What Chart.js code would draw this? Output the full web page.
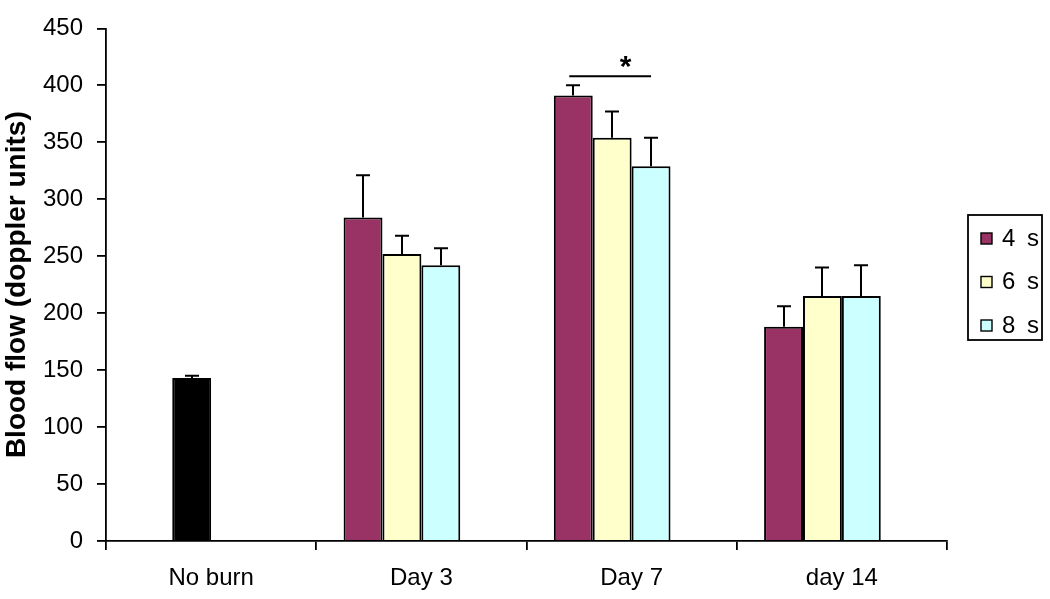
<!DOCTYPE html>
<html><head><meta charset="utf-8">
<script src="https://cdn.jsdelivr.net/npm/chart.js@4/dist/chart.umd.min.js"></script>
<style>html,body{margin:0;padding:0;background:#fff}#wrap{width:1050px;height:599px;position:relative}</style>
</head><body><div id="wrap"><canvas id="c" width="1050" height="599"></canvas></div>
<script>
const categories = ['No burn', 'Day 3', 'Day 7', 'day 14'];
const seriesLabels = ['4 s', '6 s', '8 s'];
const values4s = [null, 284, 391, 188];
const values6s = [143, 252, 354, 215];
const values8s = [null, 242, 329, 215];
const err4s = [null, 37, 9, 18];
const err6s = [2, 16, 23, 25];
const err8s = [null, 15, 25, 27];
const yTicks = [0, 50, 100, 150, 200, 250, 300, 350, 400, 450];
const sigCategory = 2;
const sigFromSeries = 0;
const sigToSeries = 2;
const sigValue = 408;
const sigMark = '*';

const colors = ['#993366', '#FFFFCC', '#CCFFFF'];
const FONT = '"Liberation Sans", Arial, sans-serif';
const errors = [err4s, err6s, err8s];

const errorBarPlugin = {
  id: 'errorBars',
  afterDatasetsDraw(chart) {
    const ctx = chart.ctx, ys = chart.scales.y;
    ctx.save();
    ctx.strokeStyle = '#000';
    ctx.lineWidth = 2;
    for (let d = 0; d < 3; d++) {
      const meta = chart.getDatasetMeta(d);
      const data = chart.data.datasets[d].data;
      meta.data.forEach((bar, i) => {
        const v = data[i], e = errors[d][i];
        if (v == null || e == null) return;
        const x = Math.round(bar.x);
        const y0 = ys.getPixelForValue(v), y1 = ys.getPixelForValue(v + e);
        ctx.beginPath();
        ctx.moveTo(x, y0); ctx.lineTo(x, y1);
        ctx.moveTo(x - 7, y1); ctx.lineTo(x + 7, y1);
        ctx.stroke();
      });
    }
    // significance line
    const b1 = chart.getDatasetMeta(sigFromSeries).data[sigCategory];
    const b2 = chart.getDatasetMeta(sigToSeries).data[sigCategory];
    const ly = ys.getPixelForValue(sigValue);
    ctx.lineWidth = 2.2;
    ctx.beginPath();
    ctx.moveTo(b1.x - 4, ly); ctx.lineTo(b2.x, ly);
    ctx.stroke();
    ctx.fillStyle = '#000';
    ctx.font = 'bold 30px ' + FONT;
    ctx.textAlign = 'center';
    ctx.textBaseline = 'middle';
    ctx.fillText(sigMark, chart.scales.x.getPixelForValue(sigCategory) - 6, ly - 9);
    ctx.restore();
  }
};

const legendPlugin = {
  id: 'boxLegend',
  afterDraw(chart) {
    const ctx = chart.ctx, ca = chart.chartArea;
    const left = ca.right + 21, top = 215, w = 74, h = 125;
    ctx.save();
    ctx.fillStyle = '#fff';
    ctx.fillRect(left, top, w, h);
    ctx.strokeStyle = '#000';
    ctx.lineWidth = 1.8;
    ctx.strokeRect(left, top, w, h);
    ctx.font = '24px ' + FONT;
    ctx.textBaseline = 'middle';
    ctx.textAlign = 'left';
    seriesLabels.forEach((lab, i) => {
      const cy = top + 23 + i * 43.5;
      ctx.fillStyle = colors[i];
      ctx.fillRect(left + 13, cy - 5, 11, 11);
      ctx.lineWidth = 1.4;
      ctx.strokeRect(left + 13, cy - 5, 11, 11);
      ctx.fillStyle = '#000';
      const parts = lab.split(' ');
      ctx.fillText(parts[0], left + 34, cy + 1);
      ctx.fillText(parts[1], left + 59, cy + 1);
    });
    ctx.restore();
  }
};

const bgPlugin = {
  id: 'bg',
  beforeDraw(chart) {
    const ctx = chart.ctx;
    ctx.save(); ctx.fillStyle = '#fff'; ctx.fillRect(0, 0, chart.width, chart.height); ctx.restore();
  }
};

new Chart(document.getElementById('c'), {
  type: 'bar',
  data: {
    labels: categories,
    datasets: [
      { label: seriesLabels[0], data: values4s, backgroundColor: colors[0] },
      { label: seriesLabels[1], data: values6s, backgroundColor: values6s.map((v, i) => i === 0 ? '#000000' : colors[1]) },
      { label: seriesLabels[2], data: values8s, backgroundColor: colors[2] },
      { label: '', data: [null, null, null, null], backgroundColor: 'rgba(0,0,0,0)' }
    ]
  },
  options: {
    responsive: false,
    animation: false,
    devicePixelRatio: 1,
    datasets: { bar: { categoryPercentage: 0.74, barPercentage: 1, borderColor: '#000', borderWidth: 2 } },
    layout: { padding: { left: 0, top: 25, right: 103, bottom: 0 } },
    plugins: { legend: { display: false }, tooltip: { enabled: false } },
    scales: {
      x: {
        grid: { display: true, drawOnChartArea: false, drawTicks: true, tickLength: 9, color: '#000', lineWidth: 1.8, offset: true },
        border: { display: true, color: '#000', width: 1.8 },
        ticks: { color: '#000', font: { family: FONT, size: 24 }, padding: 14, maxRotation: 0 },
        afterFit(s) { s.height = 58; }
      },
      y: {
        min: 0, max: 450,
        afterBuildTicks(s) { s.ticks = yTicks.map(v => ({ value: v })); },
        grid: { display: true, drawOnChartArea: false, drawTicks: true, tickLength: 9, color: '#000', lineWidth: 1.8 },
        border: { display: true, color: '#000', width: 1.8 },
        ticks: { color: '#000', font: { family: FONT, size: 24 }, padding: 14 },
        title: { display: true, text: 'Blood flow (doppler units)', color: '#000', font: { family: FONT, size: 28, weight: 'bold' }, padding: 0 },
        afterFit(s) { s.width = 106; }
      }
    }
  },
  plugins: [bgPlugin, errorBarPlugin, legendPlugin]
});
</script>
</body></html>
